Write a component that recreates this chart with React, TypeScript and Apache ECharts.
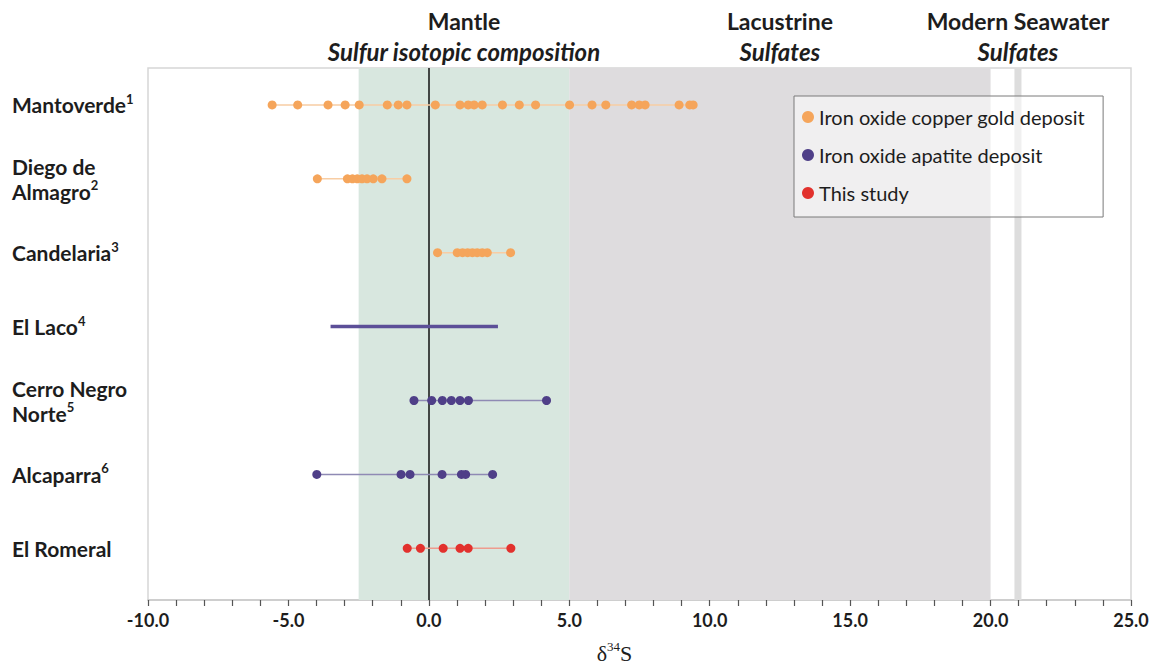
import React, { useEffect, useRef } from 'react';
import * as echarts from 'echarts';

// Row labels (top to bottom) with reference superscripts
const rowLabels = [
  '{b|Mantoverde}{s|1}',
  '{b|Diego de}\n{b|Almagro}{s|2}',
  '{b|Candelaria}{s|3}',
  '{b|El Laco}{s|4}',
  '{b|Cerro Negro}\n{b|Norte}{s|5}',
  '{b|Alcaparra}{s|6}',
  '{b|El Romeral}',
];

// δ34S values (‰) per deposit
const mantoverde = [-5.58, -4.67, -3.59, -2.98, -2.48, -1.48, -1.09, -0.78, 0.23, 1.11, 1.4, 1.61, 1.9, 2.62, 3.22, 3.8, 5.01, 5.81, 6.3, 7.22, 7.49, 7.7, 8.91, 9.29, 9.41];
const diegoDeAlmagro = [-3.97, -2.9, -2.72, -2.55, -2.38, -2.2, -1.98, -1.67, -0.78];
const candelaria = [0.31, 1.01, 1.2, 1.38, 1.55, 1.72, 1.9, 2.08, 2.91];
const elLacoRange = [-3.5, 2.46];
const cerroNegroNorte = [-0.53, 0.1, 0.48, 0.8, 1.11, 1.41, 4.19];
const alcaparra = [-3.99, -0.99, -0.67, 0.47, 1.16, 1.31, 2.27];
const elRomeral = [-0.77, -0.3, 0.51, 1.11, 1.4, 2.92];

// Reference ranges (bands)
const mantleRange = [-2.5, 5];
const lacustrineRange = [5, 20];
const seawaterRange = [20.85, 21.1];

const xTicks = { min: -10, max: 25, interval: 5 };

const legendNames = ['Iron oxide copper gold deposit', 'Iron oxide apatite deposit', 'This study'];
const dotColors = ['#F5A55B', '#4F3F88', '#E2312D'];
const lineColors = ['#F8CDA4', '#8F8AB4', '#EE9C8E'];

const FONT = 'Lato';

export default function App() {
  const ref = useRef<HTMLDivElement>(null);

  useEffect(() => {
    if (!ref.current) return;
    const chart = echarts.init(ref.current, undefined, { renderer: 'svg' });

    const rowSeries = (name: string, values: number[], row: number, kind: number) => ({
      type: 'line',
      name,
      z: 5,
      data: values.map((v) => [v, row]),
      symbol: 'circle',
      symbolSize: 9,
      showSymbol: true,
      itemStyle: { color: dotColors[kind] },
      lineStyle: { color: lineColors[kind], width: 1.5 },
      emphasis: { disabled: true },
    });

    const bandLabel = (top: string, bottom: string) => ({
      show: true,
      position: 'top',
      distance: 2,
      formatter: `{t|${top}}\n{i|${bottom}}`,
      rich: {
        t: { fontFamily: FONT, fontWeight: 'bold', fontSize: 23, color: '#1d1d1d', lineHeight: 30 },
        i: { fontFamily: FONT, fontWeight: 'bold', fontStyle: 'italic', fontSize: 24, color: '#1d1d1d', lineHeight: 30 },
      },
    });

    chart.setOption({
      animation: false,
      grid: {
        left: 148,
        right: 32,
        top: 68,
        bottom: 72,
        show: true,
        borderColor: '#D6D6D6',
        borderWidth: 1.5,
        backgroundColor: 'transparent',
      },
      legend: {
        orient: 'vertical',
        left: 794,
        top: 96,
        data: legendNames.map((n, i) => ({ name: n, icon: 'circle', itemStyle: { color: dotColors[i] } })),
        backgroundColor: 'rgba(255,255,255,0.55)',
        borderColor: '#7a7a7a',
        borderWidth: 1,
        padding: [11, 18, 14, 8],
        itemWidth: 12,
        itemHeight: 12,
        itemGap: 18,
        itemTextGap: 22,
        textStyle: { fontFamily: FONT, fontSize: 20, color: '#1d1d1d' },
        selectedMode: false,
      },
      xAxis: {
        type: 'value',
        min: xTicks.min,
        max: xTicks.max,
        interval: xTicks.interval,
        axisLine: { show: true, onZero: false, lineStyle: { color: '#C8C8C8', width: 1.5 } },
        axisTick: { show: true, length: 6, lineStyle: { color: '#555', width: 1.2 } },
        minorTick: { show: true, splitNumber: 5, length: 6, lineStyle: { color: '#555', width: 1.2 } },
        splitLine: { show: false },
        axisLabel: {
          formatter: (v: number) => v.toFixed(1),
          fontFamily: FONT,
          fontWeight: 'bold',
          fontSize: 18,
          color: '#1d1d1d',
          margin: 11,
        },
        name: '{d|δ}{s|34}{d|S}',
        nameLocation: 'middle',
        nameGap: 40,
        nameTextStyle: {
          padding: [0, 50, 0, 0],
          rich: {
            d: { fontFamily: 'Liberation Serif', fontSize: 22, color: '#1d1d1d', lineHeight: 26 },
            s: { fontFamily: 'Liberation Serif', fontSize: 13, color: '#1d1d1d', verticalAlign: 'top', lineHeight: 16 },
          },
        },
      },
      yAxis: {
        type: 'value',
        inverse: true,
        min: -0.5,
        max: 6.7,
        interval: 0.5,
        axisLine: { show: false },
        axisTick: { show: false },
        splitLine: { show: false },
        axisLabel: {
          align: 'left',
          margin: 136,
          showMaxLabel: false,
          formatter: (v: number) => {
            const r = Math.round(v * 2) / 2;
            if (Number.isInteger(r) && r >= 0 && r < rowLabels.length) return rowLabels[r];
            return '';
          },
          rich: {
            b: { fontFamily: FONT, fontWeight: 'bold', fontSize: 21, color: '#1d1d1d', lineHeight: 25 },
            s: { fontFamily: FONT, fontWeight: 'bold', fontSize: 13, color: '#1d1d1d', verticalAlign: 'top', lineHeight: 16 },
          },
        },
      },
      series: [
        {
          type: 'line',
          name: 'bands',
          z: 1,
          silent: true,
          data: [[xTicks.min, -0.5]],
          showSymbol: false,
          symbol: 'none',
          lineStyle: { width: 0 },
          markArea: {
            silent: true,
            data: [
              [
                { xAxis: mantleRange[0], itemStyle: { color: '#D8E7DF' }, label: bandLabel('Mantle', 'Sulfur isotopic composition') },
                { xAxis: mantleRange[1] },
              ],
              [
                { xAxis: lacustrineRange[0], itemStyle: { color: '#DEDCDE' }, label: bandLabel('Lacustrine', 'Sulfates') },
                { xAxis: lacustrineRange[1] },
              ],
              [
                { xAxis: seawaterRange[0], itemStyle: { color: '#DDDDDD' }, label: bandLabel('Modern Seawater', 'Sulfates') },
                { xAxis: seawaterRange[1] },
              ],
            ],
          },
          markLine: {
            silent: true,
            symbol: 'none',
            label: { show: false },
            lineStyle: { color: '#111', width: 1.5, type: 'solid' },
            data: [{ xAxis: 0 }],
          },
        },
        rowSeries(legendNames[0], mantoverde, 0, 0),
        rowSeries(legendNames[0], diegoDeAlmagro, 1, 0),
        rowSeries(legendNames[0], candelaria, 2, 0),
        {
          type: 'line',
          name: legendNames[1],
          z: 5,
          data: elLacoRange.map((v) => [v, 3]),
          symbol: 'none',
          showSymbol: false,
          itemStyle: { color: dotColors[1] },
          lineStyle: { color: '#5C4F98', width: 3.5 },
          emphasis: { disabled: true },
        },
        rowSeries(legendNames[1], cerroNegroNorte, 4, 1),
        rowSeries(legendNames[1], alcaparra, 5, 1),
        rowSeries(legendNames[2], elRomeral, 6, 2),
      ],
    });

    return () => chart.dispose();
  }, []);

  return <div ref={ref} style={{ position: 'fixed', left: 0, top: 0, width: 1163, height: 672, background: '#fff' }} />;
}
